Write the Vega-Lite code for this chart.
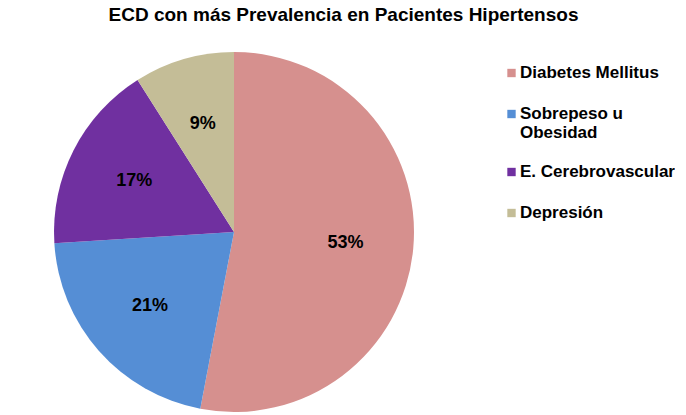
{
  "$schema": "https://vega.github.io/schema/vega-lite/v6.json",
  "width": 468,
  "height": 384,
  "padding": {"top": 6, "left": 0, "right": 0, "bottom": 0},
  "background": "white",
  "title": {
    "text": "ECD con más Prevalencia en Pacientes Hipertensos",
    "font": "Liberation Sans",
    "fontSize": 19,
    "fontWeight": "bold",
    "color": "#000000",
    "anchor": "middle",
    "frame": "bounds",
    "offset": 15,
    "dx": 6
  },
  "data": {
    "values": [
      {"categoria": "Diabetes Mellitus", "valor": 0.53, "orden": 1},
      {"categoria": "Sobrepeso u Obesidad", "valor": 0.21, "orden": 2},
      {"categoria": "E. Cerebrovascular", "valor": 0.17, "orden": 3},
      {"categoria": "Depresión", "valor": 0.09, "orden": 4}
    ]
  },
  "encoding": {
    "theta": {"field": "valor", "type": "quantitative", "stack": true},
    "order": {"field": "orden", "type": "quantitative"},
    "color": {
      "field": "categoria",
      "type": "nominal",
      "sort": ["Diabetes Mellitus", "Sobrepeso u Obesidad", "E. Cerebrovascular", "Depresión"],
      "scale": {
        "domain": ["Diabetes Mellitus", "Sobrepeso u Obesidad", "E. Cerebrovascular", "Depresión"],
        "range": ["#D6908E", "#558ED5", "#7030A0", "#C4BD97"]
      },
      "legend": {
        "title": null,
        "orient": "none",
        "legendX": 503,
        "legendY": 23,
        "padding": 0,
        "symbolType": "square",
        "symbolSize": 70,
        "symbolStrokeWidth": 0,
        "labelFont": "Liberation Sans",
        "labelFontSize": 17,
        "labelFontWeight": "bold",
        "labelColor": "#000000",
        "labelLimit": 300,
        "labelOffset": 0,
        "clipHeight": 20,
        "rowPadding": 21,
        "labelExpr": "datum.label == 'Sobrepeso u Obesidad' ? ['Sobrepeso u', 'Obesidad'] : datum.label"
      }
    }
  },
  "layer": [
    {
      "mark": {"type": "arc", "outerRadius": 180, "stroke": null}
    },
    {
      "mark": {
        "type": "text",
        "radius": 112,
        "font": "Liberation Sans",
        "fontSize": 18,
        "fontWeight": "bold",
        "color": "#000000"
      },
      "encoding": {
        "text": {"field": "valor", "type": "quantitative", "format": ".0%"},
        "color": {"value": "#000000"}
      }
    }
  ],
  "config": {"view": {"stroke": null}}
}
